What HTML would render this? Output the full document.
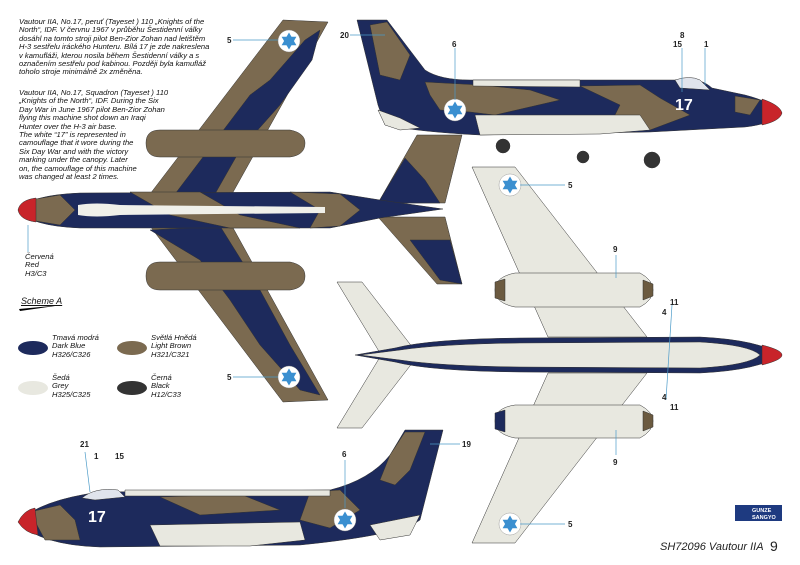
<!DOCTYPE html>
<html><head><meta charset="utf-8"><style>
body{margin:0;background:#fff;width:800px;height:565px;overflow:hidden;font-family:"Liberation Sans",sans-serif}
svg{position:absolute;left:0;top:0}
.t{position:absolute;font-style:italic;font-size:7.6px;line-height:8.4px;color:#111;white-space:nowrap}
</style></head><body>
<svg width="800" height="565" viewBox="0 0 800 565">
<defs>
<g id="star"><circle r="11" fill="#fff" stroke="#888" stroke-width="0.4"/><path d="M0,-8.5 L7.4,4.2 L-7.4,4.2Z" fill="#3a8fd0"/><path d="M0,8.5 L7.4,-4.2 L-7.4,-4.2Z" fill="#3a8fd0"/></g>
</defs>
<g stroke="#333" stroke-width="0.5">
<!-- TOP VIEW (left) -->
<path d="M150,194 L283,20 L328,22 L232,194Z" fill="#7b6a50"/>
<path d="M175,194 L250,95 L270,80 L305,40 L320,30 L312,60 L280,105 L240,150 L215,194Z" fill="#1d2a5c"/>
<path d="M150,226 L283,402 L328,400 L232,226Z" fill="#7b6a50"/>
<path d="M150,230 L200,260 L230,300 L260,345 L300,390 L320,395 L290,345 L260,290 L220,226Z" fill="#1d2a5c"/>
<path d="M378,203 L417,135 L462,135 L445,203Z" fill="#7b6a50"/>
<path d="M378,203 L405,158 L425,180 L440,203Z" fill="#1d2a5c"/>
<path d="M378,217 L437,284 L462,284 L445,217Z" fill="#7b6a50"/>
<path d="M410,240 L440,280 L462,284 L450,240Z" fill="#1d2a5c"/>
<path d="M146,143 Q146,130 160,130 L290,130 Q305,133 305,143 Q305,155 290,157 L160,157 Q146,157 146,143Z" fill="#7b6a50"/>
<path d="M146,276 Q146,262 160,262 L290,262 Q305,265 305,276 Q305,288 290,290 L160,290 Q146,290 146,276Z" fill="#7b6a50"/>
<path d="M18,210 Q30,195 80,193 L330,192 L380,200 L443,209 L380,218 L330,228 L80,228 Q30,226 18,210Z" fill="#1d2a5c"/>
<path d="M30,200 L60,195 L75,210 L60,225 L30,220Z" fill="#7b6a50"/>
<path d="M130,192 L200,192 L240,215 L300,228 L230,228 L170,215Z" fill="#7b6a50"/>
<path d="M290,192 L340,194 L360,210 L340,226 L310,228 L320,210Z" fill="#7b6a50"/>
<path d="M18,210 Q20,200 36,198 L36,222 Q20,220 18,210Z" fill="#c8242a"/>
<path d="M78,205 Q95,202 120,205 L325,207 L325,213 L120,215 Q95,218 78,215Z" fill="#f0f0ea" stroke="none"/>
<!-- SIDE VIEW top right -->
<path d="M357,20 L387,20 L425,70 Q440,80 470,80 L680,80 Q700,77 712,88 L745,95 Q772,102 782,113 Q772,124 745,127 L650,132 L480,135 Q420,132 385,125 L378,105Z" fill="#1d2a5c"/>
<path d="M370,25 L387,22 L410,55 L400,80 L380,75Z" fill="#7b6a50"/>
<path d="M425,82 L480,85 L530,90 L560,100 L495,115 L470,112 L440,110 L430,95Z" fill="#7b6a50"/>
<path d="M580,86 L640,85 L660,98 L690,115 L650,130 L610,125 L620,105Z" fill="#7b6a50"/>
<path d="M735,96 L760,100 L750,115 L735,112Z" fill="#7b6a50"/>
<path d="M762,99 Q780,105 782,113 Q780,121 762,125Z" fill="#c8242a"/>
<path d="M475,115 L640,115 L650,130 L600,134 L480,135Z" fill="#e8e8e0"/>
<path d="M378,110 L400,118 L420,128 L400,130 L385,125Z" fill="#e8e8e0"/>
<path d="M675,80 Q690,75 700,80 L710,90 L680,88Z" fill="#e0e4ec"/>
<path d="M473,80 L580,80 L580,87 L473,86Z" fill="#e8e8e0"/>
<circle cx="503" cy="146" r="7" fill="#333"/><circle cx="583" cy="157" r="6" fill="#333"/><circle cx="652" cy="160" r="8" fill="#333"/>
<!-- BOTTOM VIEW right -->
<path d="M548,337 L472,167 L515,167 L647,337Z" fill="#e8e8e0"/>
<path d="M548,373 L472,543 L515,543 L647,373Z" fill="#e8e8e0"/>
<path d="M380,353 L337,282 L362,282 L413,348Z" fill="#e8e8e0"/>
<path d="M380,357 L337,428 L362,428 L413,362Z" fill="#e8e8e0"/>
<path d="M495,290 Q495,277 515,273 L640,273 Q653,280 653,290 Q653,300 640,307 L515,307 Q495,303 495,290Z" fill="#e8e8e0"/>
<path d="M495,421 Q495,408 515,405 L640,405 Q653,412 653,421 Q653,431 640,438 L515,438 Q495,434 495,421Z" fill="#e8e8e0"/>
<path d="M495,282 L505,279 L505,301 L495,298Z" fill="#6b5a40"/><path d="M643,280 L653,284 L653,296 L643,300Z" fill="#6b5a40"/>
<path d="M495,413 L505,410 L505,432 L495,429Z" fill="#1d2a5c"/><path d="M643,411 L653,415 L653,427 L643,431Z" fill="#6b5a40"/>
<path d="M355,355 L395,348 Q430,339 520,338 L700,337 Q760,340 780,355 Q760,370 700,373 L520,372 Q430,371 395,362Z" fill="#1d2a5c"/>
<path d="M400,350 Q440,344 520,343 L700,342 Q750,345 760,355 Q750,365 700,368 L520,367 Q440,366 400,360 L360,355Z" fill="#e8e8e0"/>
<path d="M762,345 Q782,350 782,355 Q782,360 762,365Z" fill="#c8242a"/>
<!-- SIDE VIEW bottom left -->
<path d="M330,490 Q370,480 390,455 L405,430 L443,430 L420,520 Q400,535 300,545 L100,547 Q40,545 18,522 Q40,500 100,492 Z" fill="#1d2a5c"/>
<path d="M390,455 L405,432 L425,432 L410,470 L395,485 L380,480Z" fill="#7b6a50"/>
<path d="M160,497 L240,494 L280,510 L200,515Z" fill="#7b6a50"/>
<path d="M310,492 L340,490 L360,510 L330,528 L300,520Z" fill="#7b6a50"/>
<path d="M30,512 L60,505 L75,520 L80,540 L45,540Z" fill="#7b6a50"/>
<path d="M150,525 L300,522 L305,540 L250,546 L160,546Z" fill="#e8e8e0"/>
<path d="M370,525 L420,515 L410,535 L380,540Z" fill="#e8e8e0"/>
<path d="M18,522 Q24,510 35,508 L38,535 Q25,533 18,522Z" fill="#c8242a"/>
<path d="M82,498 Q95,487 118,490 L125,497 L95,500Z" fill="#e0e4ec"/>
<path d="M125,490 L330,490 L330,496 L125,496Z" fill="#e8e8e0"/>
</g>
<use href="#star" x="289" y="41"/><use href="#star" x="289" y="377"/>
<use href="#star" x="455" y="110"/><use href="#star" x="345" y="520"/>
<use href="#star" x="510" y="185"/><use href="#star" x="510" y="524"/>
<text x="675" y="110" fill="#fff" font-size="16" font-weight="bold">17</text>
<text x="88" y="522" fill="#fff" font-size="16" font-weight="bold">17</text>
<!-- legend -->
<ellipse cx="33" cy="348" rx="15" ry="7" fill="#1d2a5c"/>
<ellipse cx="132" cy="348" rx="15" ry="7" fill="#7b6a50"/>
<ellipse cx="33" cy="388" rx="15" ry="7" fill="#e8e8e0"/>
<ellipse cx="132" cy="388" rx="15" ry="7" fill="#333"/>
<path d="M19,309 L62,305 L20,311Z" fill="#000"/>
<!-- leader lines -->
<g stroke="#4a9ac8" stroke-width="0.7">
<line x1="233" y1="40" x2="278" y2="40"/><line x1="233" y1="377" x2="278" y2="377"/>
<line x1="350" y1="35" x2="385" y2="35"/><line x1="455" y1="48" x2="455" y2="100"/>
<line x1="682" y1="48" x2="682" y2="92"/><line x1="705" y1="48" x2="705" y2="85"/>
<line x1="520" y1="185" x2="565" y2="185"/><line x1="520" y1="524" x2="565" y2="524"/>
<line x1="616" y1="255" x2="616" y2="278"/><line x1="616" y1="430" x2="616" y2="455"/>
<line x1="672" y1="305" x2="666" y2="400"/><line x1="430" y1="444" x2="460" y2="444"/>
<line x1="345" y1="460" x2="345" y2="508"/><line x1="85" y1="452" x2="90" y2="492"/>
<line x1="28" y1="225" x2="28" y2="252"/>
</g>
<g font-size="8" font-weight="bold" fill="#222">
<text x="227" y="43">5</text><text x="227" y="380">5</text><text x="340" y="38">20</text>
<text x="452" y="47">6</text><text x="680" y="38">8</text><text x="673" y="47">15</text><text x="704" y="47">1</text>
<text x="568" y="188">5</text><text x="568" y="527">5</text><text x="613" y="252">9</text><text x="613" y="465">9</text>
<text x="670" y="305">11</text><text x="662" y="315">4</text><text x="662" y="400">4</text><text x="670" y="410">11</text>
<text x="462" y="447">19</text><text x="342" y="457">6</text><text x="80" y="447">21</text><text x="94" y="459">1</text><text x="115" y="459">15</text>
</g>
<rect x="735" y="505" width="47" height="16" fill="#1e3a80"/>
<text x="752" y="512" fill="#fff" font-size="5.5" font-weight="bold">GUNZE</text>
<text x="752" y="519" fill="#fff" font-size="5.5" font-weight="bold">SANGYO</text>
<text x="660" y="550" font-size="11" font-style="italic" fill="#222">SH72096 Vautour IIA</text>
<text x="770" y="551" font-size="14" fill="#222">9</text>
</svg>
<div class="t" style="left:19px;top:18px">Vautour IIA, No.17, peruť (Tayeset ) 110 „Knights of the<br>North“, IDF. V červnu 1967 v průběhu Šestidenní války<br>dosáhl na tomto stroji pilot Ben-Zior Zohan nad letištěm<br>H-3 sestřelu iráckého Hunteru. Bílá 17 je zde nakreslena<br>v kamufláži, kterou nosila během Šestidenní války a s<br>označením sestřelu pod kabinou. Později byla kamufláž<br>toholo stroje minimálně 2x změněna.</div>
<div class="t" style="left:19px;top:89px">Vautour IIA, No.17, Squadron (Tayeset ) 110<br>„Knights of the North“, IDF. During the Six<br>Day War in June 1967 pilot Ben-Zior Zohan<br>flying this machine shot down an Iraqi<br>Hunter over the H-3 air base.<br>The white “17” is represented in<br>camouflage that it wore during the<br>Six Day War and with the victory<br>marking under the canopy. Later<br>on, the camouflage of this machine<br>was changed at least 2 times.</div>
<div class="t" style="left:25px;top:253px">Červená<br>Red<br>H3/C3</div>
<div class="t" style="left:21px;top:297px;font-size:9px;text-decoration:underline">Scheme A</div>
<div class="t" style="left:52px;top:334px">Tmavá modrá<br>Dark Blue<br>H326/C326</div>
<div class="t" style="left:151px;top:334px">Světlá Hnědá<br>Light Brown<br>H321/C321</div>
<div class="t" style="left:52px;top:374px">Šedá<br>Grey<br>H325/C325</div>
<div class="t" style="left:151px;top:374px">Černá<br>Black<br>H12/C33</div>
</body></html>
